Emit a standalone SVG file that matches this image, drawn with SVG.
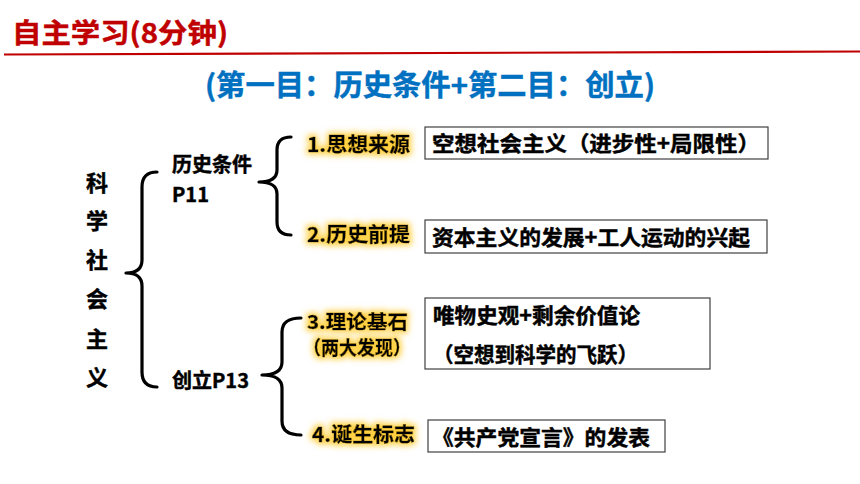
<svg xmlns="http://www.w3.org/2000/svg" width="860" height="484" viewBox="0 0 860 484">
<defs>
<filter id="glow" x="-20%" y="-50%" width="140%" height="200%">
<feMorphology in="SourceAlpha" operator="dilate" radius="1.5" result="d"/>
<feGaussianBlur in="d" stdDeviation="3" result="b"/>
<feFlood flood-color="#FFC000" flood-opacity="0.75"/>
<feComposite in2="b" operator="in" result="g"/>
<feMerge><feMergeNode in="g"/><feMergeNode in="SourceGraphic"/></feMerge>
</filter>
</defs>
<style>
text{font-family:"Noto Sans CJK SC","Noto Sans",sans-serif;font-weight:bold;fill:#000;stroke:#000;stroke-width:0.45}
.title{fill:#C00000;stroke:#C00000;font-size:27px}
.sub{fill:#0070C0;stroke:#0070C0;font-size:29px}
.vert{font-size:22px}
.mid{font-size:20px}
.lbl{font-size:20px}
.lbl2{font-size:19px}
.box{fill:#fff;stroke:#404040;stroke-width:1.2}
.bt{font-size:21px}
.brace{fill:none;stroke:#000;stroke-width:3.2;stroke-linecap:round;stroke-linejoin:round}
</style>
<rect width="860" height="484" fill="#fff"/>
<g id="header">
<text class="title" x="12" y="43" textLength="216" lengthAdjust="spacingAndGlyphs">自主学习(8分钟)</text>
<line x1="4" y1="54.5" x2="860" y2="51.5" stroke="#C00000" stroke-width="2.2"/>
<text class="sub" x="430" y="96" text-anchor="middle" textLength="450" lengthAdjust="spacingAndGlyphs">(第一目：历史条件+第二目：创立)</text>
</g>
<g id="root">
<text class="vert" x="97" y="191" text-anchor="middle">科</text>
<text class="vert" x="97" y="229" text-anchor="middle">学</text>
<text class="vert" x="97" y="268" text-anchor="middle">社</text>
<text class="vert" x="97" y="307" text-anchor="middle">会</text>
<text class="vert" x="97" y="347" text-anchor="middle">主</text>
<text class="vert" x="97" y="385" text-anchor="middle">义</text>
</g>
<g id="connectors">
<path class="brace" d="M157,172 Q142,172 142,187 L142,260 Q142,273 126,273 Q142,273 142,286 L142,372 Q142,387 157,387"/>
<path class="brace" d="M291,137 Q277,137 277,150 L277,170 Q277,182 259,182 Q277,182 277,194 L277,222 Q277,235 291,235"/>
<path class="brace" d="M301,318 Q282,318 282,332 L282,362 Q282,375 262,375 Q282,375 282,388 L282,421 Q282,435 301,435"/>
</g>
<g id="n-history">
<text class="mid" x="172" y="172">历史条件</text>
<text class="mid" x="172" y="202">P11</text>
</g>
<g id="n-found">
<text class="mid" x="172" y="388">创立P13</text>
</g>
<g id="n1">
<text class="lbl" x="307" y="152" filter="url(#glow)" textLength="103" lengthAdjust="spacingAndGlyphs">1.思想来源</text>
<rect class="box" x="425" y="127" width="343" height="32"/>
<text class="bt" x="432" y="151" textLength="328" lengthAdjust="spacingAndGlyphs">空想社会主义（进步性+局限性）</text>
</g>
<g id="n2">
<text class="lbl" x="307" y="242" filter="url(#glow)" textLength="103" lengthAdjust="spacingAndGlyphs">2.历史前提</text>
<rect class="box" x="425" y="220" width="342" height="33"/>
<text class="bt" x="432" y="245" textLength="318" lengthAdjust="spacingAndGlyphs">资本主义的发展+工人运动的兴起</text>
</g>
<g id="n3">
<text class="lbl2" x="307" y="329" filter="url(#glow)" textLength="101" lengthAdjust="spacingAndGlyphs">3.理论基石</text>
<text class="lbl2" x="303" y="355" filter="url(#glow)" textLength="108" lengthAdjust="spacingAndGlyphs">（两大发现）</text>
<rect class="box" x="425" y="298" width="285" height="71"/>
<text class="bt" x="433" y="323" textLength="207" lengthAdjust="spacingAndGlyphs">唯物史观+剩余价值论</text>
<text class="bt" x="433" y="362" textLength="205" lengthAdjust="spacingAndGlyphs">（空想到科学的飞跃）</text>
</g>
<g id="n4">
<text class="lbl" x="312" y="442" filter="url(#glow)" textLength="103" lengthAdjust="spacingAndGlyphs">4.诞生标志</text>
<rect class="box" x="428" y="420" width="237" height="32"/>
<text class="bt" x="432" y="445" textLength="218" lengthAdjust="spacingAndGlyphs">《共产党宣言》的发表</text>
</g>
</svg>
